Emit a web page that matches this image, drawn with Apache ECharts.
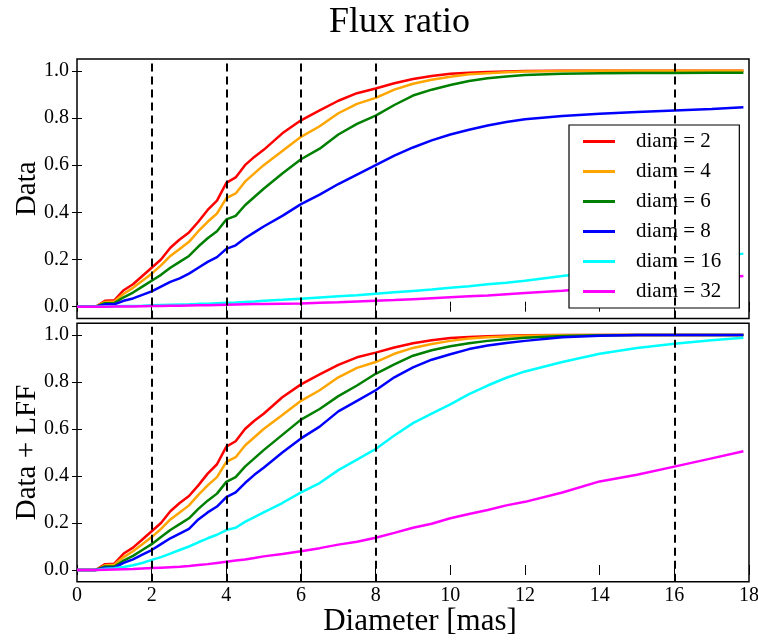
<!DOCTYPE html>
<html>
<head>
<meta charset="utf-8">
<script src="https://cdn.jsdelivr.net/npm/echarts@6/dist/echarts.min.js"></script>
<style>
html,body{margin:0;padding:0;background:#fff;}
#chart{width:758px;height:641px;}
</style>
</head>
<body>
<div id="chart"></div>
<script>
// ---- data ----
const diameters = [0,0.5,0.75,1.0,1.25,1.5,1.75,2.0,2.25,2.5,2.75,3.0,3.25,3.5,3.75,4.0,4.25,4.5,4.75,5.0,5.5,6.0,6.5,7.0,7.5,8.0,8.5,9.0,9.5,10,10.5,11,11.5,12,13,14,15,16,17,17.85];
const seriesNames = ['diam = 2','diam = 4','diam = 6','diam = 8','diam = 16','diam = 32'];
const seriesColors = ['#ff0000','#ffa500','#008000','#0000ff','#00ffff','#ff00ff'];

const top_d2  = [0,0,0.025,0.027,0.07,0.095,0.13,0.165,0.2,0.25,0.285,0.315,0.36,0.41,0.45,0.525,0.548,0.6,0.635,0.665,0.735,0.79,0.832,0.873,0.905,0.925,0.947,0.965,0.978,0.987,0.992,0.995,0.997,0.999,1,1,1,1,1,1];
const top_d4  = [0,0,0.02,0.022,0.055,0.08,0.11,0.14,0.175,0.215,0.245,0.275,0.32,0.36,0.395,0.46,0.48,0.53,0.565,0.6,0.66,0.72,0.765,0.82,0.86,0.885,0.92,0.945,0.962,0.975,0.985,0.99,0.994,0.997,0.999,1,1,1,1,1];
const top_d6  = [0,0,0.015,0.015,0.04,0.06,0.085,0.11,0.135,0.165,0.19,0.215,0.255,0.29,0.32,0.37,0.385,0.43,0.465,0.5,0.565,0.625,0.67,0.73,0.775,0.81,0.855,0.895,0.92,0.94,0.957,0.968,0.976,0.982,0.988,0.99,0.991,0.991,0.992,0.992];
const top_d8  = [0,0,0.01,0.01,0.025,0.035,0.05,0.065,0.085,0.105,0.12,0.14,0.165,0.19,0.21,0.245,0.26,0.29,0.315,0.34,0.385,0.435,0.475,0.52,0.56,0.6,0.64,0.675,0.705,0.73,0.75,0.768,0.783,0.795,0.808,0.818,0.825,0.832,0.838,0.845];
const top_d16 = [0,0,0.001,0.002,0.003,0.003,0.004,0.006,0.007,0.008,0.009,0.01,0.012,0.013,0.015,0.017,0.018,0.02,0.022,0.025,0.029,0.034,0.039,0.044,0.049,0.055,0.061,0.067,0.073,0.08,0.087,0.095,0.102,0.11,0.13,0.148,0.165,0.185,0.205,0.225];
const top_d32 = [0,0,0,0.001,0.001,0.001,0.002,0.003,0.003,0.004,0.004,0.005,0.006,0.006,0.007,0.008,0.009,0.01,0.011,0.011,0.013,0.014,0.017,0.019,0.022,0.025,0.028,0.032,0.036,0.04,0.044,0.048,0.053,0.058,0.068,0.08,0.092,0.105,0.118,0.13];

const bot_d2  = [0,0,0.025,0.027,0.07,0.095,0.13,0.165,0.2,0.25,0.285,0.315,0.36,0.41,0.45,0.525,0.548,0.6,0.635,0.665,0.735,0.79,0.832,0.873,0.905,0.925,0.947,0.965,0.978,0.987,0.992,0.995,0.997,0.999,1,1,1,1,1,1];
const bot_d4  = [0,0,0.02,0.022,0.055,0.08,0.11,0.14,0.175,0.215,0.245,0.275,0.32,0.36,0.395,0.46,0.48,0.53,0.565,0.6,0.66,0.72,0.765,0.82,0.86,0.885,0.92,0.945,0.962,0.975,0.985,0.99,0.994,0.997,0.999,1,1,1,1,1];
const bot_d6  = [0,0,0.015,0.015,0.04,0.06,0.085,0.11,0.14,0.17,0.195,0.22,0.26,0.295,0.325,0.375,0.395,0.44,0.475,0.51,0.575,0.64,0.685,0.74,0.785,0.835,0.875,0.912,0.935,0.952,0.965,0.975,0.982,0.988,0.996,0.999,1,1,1,1];
const bot_d8  = [0,0,0.01,0.01,0.03,0.045,0.065,0.085,0.11,0.135,0.155,0.175,0.215,0.245,0.27,0.31,0.33,0.37,0.405,0.435,0.5,0.56,0.61,0.675,0.72,0.765,0.82,0.862,0.895,0.918,0.94,0.955,0.966,0.975,0.99,0.997,1,1,1,1];
const bot_d16 = [0,0,0.005,0.007,0.013,0.02,0.03,0.043,0.055,0.07,0.085,0.1,0.118,0.135,0.15,0.17,0.18,0.205,0.225,0.245,0.285,0.33,0.37,0.425,0.47,0.515,0.572,0.625,0.665,0.705,0.748,0.785,0.818,0.845,0.885,0.92,0.945,0.963,0.978,0.988];
const bot_d32 = [0,0,0.001,0.002,0.003,0.004,0.006,0.008,0.01,0.012,0.014,0.017,0.021,0.025,0.03,0.035,0.04,0.045,0.051,0.058,0.068,0.08,0.093,0.108,0.12,0.137,0.158,0.18,0.197,0.22,0.238,0.255,0.275,0.29,0.33,0.377,0.405,0.44,0.475,0.505];

const dashedX = [2,4,6,8,16];
const yTicks = [0,0.2,0.4,0.6,0.8,1.0];
const xTicks = [0,2,4,6,8,10,12,14,16,18];

// ---- chart ----
const FONT = 'Liberation Serif';
const topSets = [top_d2, top_d4, top_d6, top_d8, top_d16, top_d32];
const botSets = [bot_d2, bot_d4, bot_d6, bot_d8, bot_d16, bot_d32];

function pairs(vals){ return diameters.map((x,i)=>[x, vals[i]]); }

function xAx(grid, pos, labels, extra){
  return Object.assign({
    type:'value', gridIndex:grid, position:pos, min:0, max:18, interval:2,
    axisLine:{show:false},
    axisTick:{show:true, inside:true, length:5, customValues:xTicks, lineStyle:{color:'#000', width:1}},
    axisLabel:{show:labels, customValues:xTicks, color:'#000', fontFamily:FONT, fontSize:20, margin:4},
    splitLine:{show:false}
  }, extra||{});
}
function yAx(grid, pos, labels, extra){
  return Object.assign({
    type:'value', gridIndex:grid, position:pos, min:-0.05, max:1.05,
    axisLine:{show:false},
    axisTick:{show:true, inside:true, length:5, customValues:yTicks, lineStyle:{color:'#000', width:1}},
    axisLabel:{show:labels, customValues:yTicks, color:'#000', fontFamily:FONT, fontSize:20, margin:8,
      formatter:(v)=>Number(v).toFixed(1)},
    splitLine:{show:false}
  }, extra||{});
}

const markLine = {
  silent:true, symbol:'none', label:{show:false},
  lineStyle:{color:'#000', type:[8,5], width:2},
  data: dashedX.map(v=>({xAxis:v}))
};

const series = [];
topSets.forEach((vals,i)=>{
  const s = {name:seriesNames[i], type:'line', xAxisIndex:0, yAxisIndex:0, showSymbol:false, symbol:'none',
    data:pairs(vals), lineStyle:{width:2.5, color:seriesColors[i]}, itemStyle:{color:seriesColors[i]}, z:3};
  if(i===0) s.markLine = markLine;
  series.push(s);
});
botSets.forEach((vals,i)=>{
  const s = {name:seriesNames[i], type:'line', xAxisIndex:2, yAxisIndex:2, showSymbol:false, symbol:'none',
    data:pairs(vals), lineStyle:{width:2.5, color:seriesColors[i]}, itemStyle:{color:seriesColors[i]}, z:3};
  if(i===0) s.markLine = markLine;
  series.push(s);
});

const gridBase = {left:77, width:672, show:true, borderColor:'#000', borderWidth:1.5,
  backgroundColor:'transparent', containLabel:false, outerBoundsMode:'none'};

const option = {
  animation:false,
  backgroundColor:'#fff',
  title:{text:'Flux ratio', left:329, top:5, padding:0,
    textStyle:{fontFamily:FONT, fontSize:36, fontWeight:'normal', color:'#000'}},
  legend:{
    data:seriesNames, orient:'vertical', left:569, top:125,
    backgroundColor:'#fff', borderColor:'#000', borderWidth:1.2,
    padding:[6,18,6,14], itemGap:9, itemWidth:32, itemHeight:3, icon:'rect',
    textStyle:{fontFamily:FONT, fontSize:21, color:'#000', padding:[0,0,0,16]}
  },
  grid:[
    Object.assign({}, gridBase, {top:59, height:259.5}),
    Object.assign({}, gridBase, {top:323.25, height:258.5})
  ],
  xAxis:[
    xAx(0,'bottom',false),
    xAx(0,'top',false),
    xAx(1,'bottom',true,{name:'Diameter [mas]', nameLocation:'middle', nameGap:24,
      nameTextStyle:{fontFamily:FONT, fontSize:31, color:'#000', padding:[0,0,0,14]}}),
    xAx(1,'top',false)
  ],
  yAxis:[
    yAx(0,'left',true,{name:'Data', nameLocation:'middle', nameGap:35, nameMoveOverlap:false,
      nameTextStyle:{fontFamily:FONT, fontSize:29, color:'#000'}}),
    yAx(0,'right',false),
    yAx(1,'left',true,{name:'Data + LFF', nameLocation:'middle', nameGap:35, nameMoveOverlap:false,
      nameTextStyle:{fontFamily:FONT, fontSize:29, color:'#000'}}),
    yAx(1,'right',false)
  ],
  series:series
};

const chart = echarts.init(document.getElementById('chart'), null, {renderer:'canvas'});
chart.setOption(option);
</script>
</body>
</html>
